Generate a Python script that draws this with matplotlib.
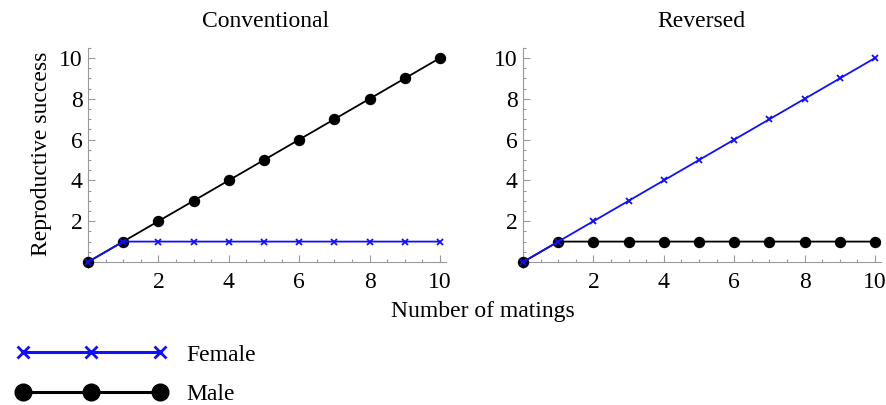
import matplotlib.pyplot as plt
from matplotlib.lines import Line2D
from matplotlib.legend_handler import HandlerLine2D
from matplotlib.ticker import MultipleLocator

plt.rcParams['font.family'] = ['Liberation Serif', 'DejaVu Serif']
plt.rcParams['font.size'] = 17

# MARK: - Data
matings = [0, 1, 2, 3, 4, 5, 6, 7, 8, 9, 10]
success_rising = [0, 1, 2, 3, 4, 5, 6, 7, 8, 9, 10]
success_flat = [0, 1, 1, 1, 1, 1, 1, 1, 1, 1, 1]

panel_titles = ["Conventional", "Reversed"]
# (male, female) per panel
panel_series = [(success_rising, success_flat), (success_flat, success_rising)]
major_ticks = [2, 4, 6, 8, 10]

FEMALE_COLOR = "#1010ff"
MALE_COLOR = "black"
AXIS_COLOR = "#999999"

fig = plt.figure(figsize=(8.87, 4.05), dpi=100)

lefts = [0.0968, 0.5873]
for i, (left, title, (male, female)) in enumerate(zip(lefts, panel_titles, panel_series)):
    ax = fig.add_axes([left, 0.338, 0.406, 0.544])
    ax.plot(matings, male, color=MALE_COLOR, lw=1.3, marker="o", ms=7.2, zorder=3, clip_on=False)
    ax.plot(matings, female, color=FEMALE_COLOR, lw=1.3, marker="x", ms=5, mew=1.3, zorder=4, clip_on=False)

    ax.set_xlim(-0.06, 10.17)
    ax.set_ylim(-0.3, 10.5)
    for side in ("top", "right"):
        ax.spines[side].set_visible(False)
    for side in ("left", "bottom"):
        ax.spines[side].set_position(("data", 0))
        ax.spines[side].set_color(AXIS_COLOR)
        ax.spines[side].set_linewidth(0.8)
    # let the axis lines run a little past the origin, like the reference
    ax.spines["left"].set_bounds(-0.3, 10.5)
    ax.spines["bottom"].set_bounds(-0.06, 10.17)

    ax.set_xticks(major_ticks)
    ax.set_yticks(major_ticks)
    ax.xaxis.set_minor_locator(MultipleLocator(0.5))
    ax.yaxis.set_minor_locator(MultipleLocator(0.5))
    ax.tick_params(which="both", direction="in", color=AXIS_COLOR, width=0.8)
    ax.tick_params(which="major", length=5)
    ax.tick_params(which="minor", length=2.5)
    ax.tick_params(axis="x", pad=7)
    ax.tick_params(axis="y", pad=4)

    ax.text(0.5, 1.12, title, transform=ax.transAxes, ha="center", va="center")
    if i == 0:
        ax.set_ylabel("Reproductive success")
        ax.yaxis.set_label_coords(-0.094, 0.52)

fig.text(483 / 887, 1 - 311 / 405, "Number of matings", ha="center", va="center")

# MARK: - Legend
handles = [
    Line2D([], [], color=FEMALE_COLOR, lw=2.2, marker="x", ms=9, mew=2),
    Line2D([], [], color=MALE_COLOR, lw=2.2, marker="o", ms=12),
]
fig.legend(handles, ["Female", "Male"], loc="upper left",
           bbox_to_anchor=(10 / 887, 1 - 344 / 405), frameon=False,
           numpoints=3, handlelength=6.9, handletextpad=0.55,
           labelspacing=0.75, borderpad=0, borderaxespad=0,
           handler_map={Line2D: HandlerLine2D(marker_pad=0.55)})

fig.savefig("out.png", dpi=100)
